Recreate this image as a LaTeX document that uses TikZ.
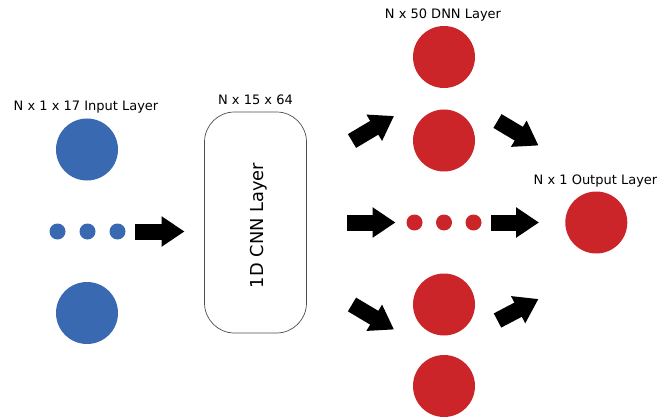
\documentclass[tikz,border=0pt]{standalone}
\usepackage{fontspec}
\setmainfont{DejaVu Sans}
\usepackage{tikz}
\usetikzlibrary{arrows.meta, positioning}
\definecolor{inblue}{RGB}{57, 106, 177}
\definecolor{nnred}{RGB}{204, 37, 41}

\begin{document}
\begin{tikzpicture}[x=1pt, y=-1pt,
    bigin/.style={circle, fill=inblue, minimum size=62pt, inner sep=0pt},
    smallin/.style={circle, fill=inblue, minimum size=16pt, inner sep=0pt},
    bigred/.style={circle, fill=nnred, minimum size=62pt, inner sep=0pt},
    smallred/.style={circle, fill=nnred, minimum size=16pt, inner sep=0pt},
    blockarrow/.style={line width=16pt, -{Triangle[width=29pt, length=23pt]}},
    layerlabel/.style={anchor=base, font=\fontsize{13}{15}\selectfont}]
  \useasboundingbox (0,0) rectangle (657,420);

  % input layer
  \node[bigin] (in1) at (87,149.5) {};
  \foreach \i/\x in {1/57.5, 2/87.5, 3/117.5}
    \node[smallin] (indot\i) at (\x,231.5) {};
  \node[bigin] (in2) at (87,313) {};
  \node[layerlabel] (inlabel) at (86,110.7) {N x 1 x 17 Input Layer};

  % cnn layer
  \node[draw=black!70, line width=0.7pt, rounded corners=30pt, minimum width=102pt, minimum height=221pt] (cnn) at (255.5,222.5) {};
  \node[rotate=90, anchor=base, font=\fontsize{17.8}{20}\selectfont] (cnnlabel) at (263.3,225.5) {1D CNN Layer};
  \node[layerlabel] (cnnsize) at (255.5,105) {N x 15 x 64};

  % dnn layer
  \node[bigred] (dnn1) at (444,57) {};
  \node[bigred] (dnn2) at (444,140.5) {};
  \foreach \i/\x in {1/414.5, 2/444, 3/473.5}
    \node[smallred] (dnndot\i) at (\x,222.5) {};
  \node[bigred] (dnn3) at (444,304.5) {};
  \node[bigred] (dnn4) at (444,386) {};
  \node[layerlabel] (dnnlabel) at (443,18.3) {N x 50 DNN Layer};

  % output layer
  \node[bigred] (out) at (596.3,222.5) {};
  \node[layerlabel] (outlabel) at (595.5,184.3) {N x 1 Output Layer};

  % arrows
  \coordinate (a1s) at (135,231.5);  \coordinate (a1e) at (184.5,231.5);
  \coordinate (a2s) at (352,141);    \coordinate (a2e) at (394,116);
  \coordinate (a3s) at (347,222.5);  \coordinate (a3e) at (395.5,222.5);
  \coordinate (a4s) at (352,304.5);  \coordinate (a4e) at (394,329.5);
  \coordinate (a5s) at (497.5,121);  \coordinate (a5e) at (538.5,145.5);
  \coordinate (a6s) at (491,222.5);  \coordinate (a6e) at (539,222.5);
  \coordinate (a7s) at (497.5,320.5); \coordinate (a7e) at (538.5,299);
  \foreach \i in {1,...,7}
    \draw[blockarrow] (a\i s) -- (a\i e);
\end{tikzpicture}
\end{document}
